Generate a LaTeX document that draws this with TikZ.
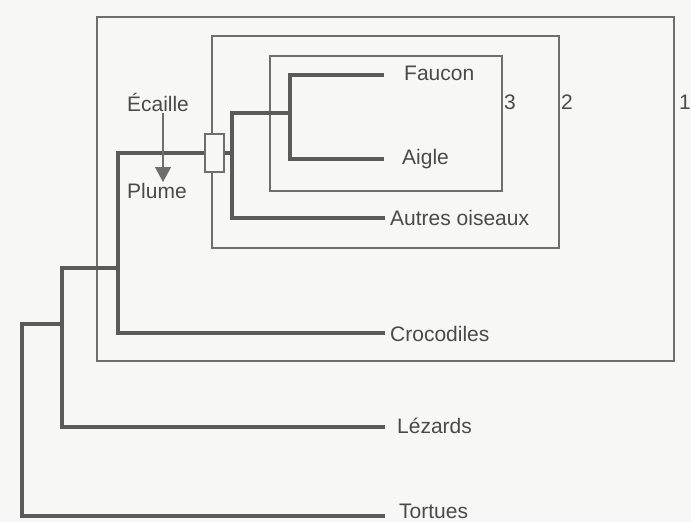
\documentclass[tikz,border=0pt]{standalone}
\usepackage{fontspec}
\setmainfont{Liberation Sans}
\usetikzlibrary{arrows.meta}
\definecolor{bg}{HTML}{F7F7F6}
\definecolor{thick}{HTML}{5A5A5A}
\definecolor{thin}{HTML}{6E6E6E}
\definecolor{txt}{HTML}{4A4A4A}
\begin{document}
\begin{tikzpicture}[x=1pt,y=-1pt,
  branch/.style={draw=thick,line width=3.6pt,line join=miter},
  setbox/.style={draw=thin,line width=1.6pt},
  taxon/.style={anchor=west,inner sep=0pt,text=txt,font=\fontsize{21}{25}\selectfont},
  setnum/.style={anchor=west,inner sep=0pt,text=txt,font=\fontsize{21}{25}\selectfont},
  trait/.style={inner sep=0pt,text=txt,font=\fontsize{21}{25}\selectfont}]
\fill[bg] (0,0) rectangle (691,522);
\useasboundingbox (0,0) rectangle (691,522);
% nested sets
\draw[setbox] (97,17) rectangle (674,361);
\draw[setbox] (212,36) rectangle (559,248);
\draw[setbox] (270,56) rectangle (502,191);
\node[setnum] (n1) at (679,102) {1};
\node[setnum] (n2) at (561,102) {2};
\node[setnum] (n3) at (504,102) {3};
% taxa
\node[taxon] (faucon) at (404,73) {Faucon};
\node[taxon] (aigle) at (402,159) {Aigle};
\node[taxon] (autres) at (390,218) {Autres oiseaux};
\node[taxon] (croco) at (390,334) {Crocodiles};
\node[taxon] (lezards) at (397,426) {Lézards};
\node[taxon] (tortues) at (399,511) {Tortues};
% branch ends
\coordinate (fe) at (384,75);
\coordinate (ae) at (384,159);
\coordinate (oe) at (385,218);
\coordinate (ce) at (385,333);
\coordinate (le) at (385,427);
\coordinate (te) at (385,516);
% internal nodes
\coordinate (fa) at (290,113);
\coordinate (av) at (232,153);
\coordinate (ar) at (118,268);
\coordinate (sq) at (62,324);
% tree
\draw[branch] (fe) -- (290,75) -- (290,159) -- (ae);
\draw[branch] (fa) -- (232,113) -- (232,218) -- (oe);
\draw[branch] (av) -- (118,153) -- (118,333) -- (ce);
\draw[branch] (ar) -- (62,268) -- (62,427) -- (le);
\draw[branch] (sq) -- (22,324) -- (22,516) -- (te);
% character box
\node[draw=thin,line width=1.6pt,fill=bg,minimum width=19pt,minimum height=38pt,inner sep=0pt] (car) at (214.5,153) {};
% character change
\node[trait] (ecaille) at (158,102) {Écaille};
\node[trait] (plume) at (157,191) {Plume};
\draw[draw=thin,line width=1.4pt,-{Triangle[length=15pt,width=16pt]},fill=thin] (163,113) -- (163,182);
\end{tikzpicture}
\end{document}
